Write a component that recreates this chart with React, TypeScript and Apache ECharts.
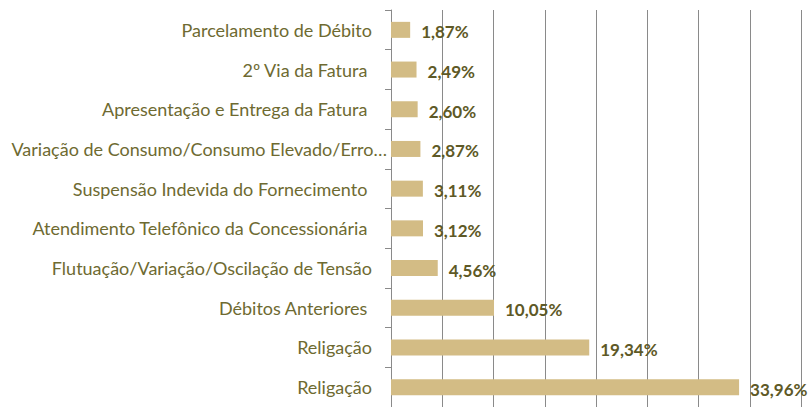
import React, { useEffect, useRef } from "react";
import * as echarts from "echarts";

const categories: string[] = [
  "Parcelamento de Débito",
  "2º Via da Fatura ",
  "Apresentação e Entrega da Fatura ",
  "Variação de Consumo/Consumo Elevado/Erro…",
  "Suspensão Indevida do Fornecimento ",
  "Atendimento Telefônico da Concessionária ",
  "Flutuação/Variação/Oscilação de Tensão",
  "Débitos Anteriores ",
  "Religação",
  "Religação",
];

const values: number[] = [1.87, 2.49, 2.6, 2.87, 3.11, 3.12, 4.56, 10.05, 19.34, 33.96];

const xTicks = { min: 0, max: 40, interval: 5 };

const FONT = "Lato, 'DejaVu Sans Condensed', sans-serif";

export default function App() {
  const ref = useRef<HTMLDivElement>(null);
  useEffect(() => {
    if (!ref.current) return;
    const chart = echarts.init(ref.current, undefined, { renderer: "svg" });
    chart.setOption({
      animation: false,
      backgroundColor: "#ffffff",
      grid: { left: 391, right: 9, top: 10, height: 400 },
      xAxis: {
        type: "value",
        min: xTicks.min,
        max: xTicks.max,
        interval: xTicks.interval,
        axisLabel: { show: false },
        axisLine: { show: false },
        axisTick: { show: false },
        splitLine: { show: true, lineStyle: { color: "#8a8a8a", width: 1 } },
      },
      yAxis: {
        type: "category",
        inverse: true,
        data: categories,
        axisLine: { show: true, lineStyle: { color: "#8a8a8a", width: 1 } },
        axisTick: { show: true, length: 6, lineStyle: { color: "#8a8a8a" } },
        axisLabel: {
          margin: 4,
          fontFamily: FONT,
          fontSize: 18,
          color: "#6e6a31",
          formatter: (v: string) => (v.endsWith("…") ? `{t|${v}}` : `{n|${v}}`),
          rich: {
            n: { fontFamily: FONT, fontSize: 18, color: "#6e6a31", padding: [0, 15, 0, 0] },
            t: { fontFamily: FONT, fontSize: 18, color: "#6e6a31" },
          },
        },
      },
      series: [
        {
          type: "bar",
          data: values,
          barWidth: 16,
          itemStyle: { color: "#d3bc85" },
          label: {
            show: true,
            position: "right",
            distance: 11,
            fontFamily: FONT,
            fontSize: 17,
            fontWeight: "bold",
            color: "#5e5926",
            offset: [0, 2],
            formatter: (p: any) => p.value.toFixed(2).replace(".", ",") + "%",
          },
        },
      ],
    });
    return () => chart.dispose();
  }, []);
  return (
    <div
      ref={ref}
      style={{ position: "absolute", left: 0, top: 0, width: 810, height: 407 }}
    />
  );
}
